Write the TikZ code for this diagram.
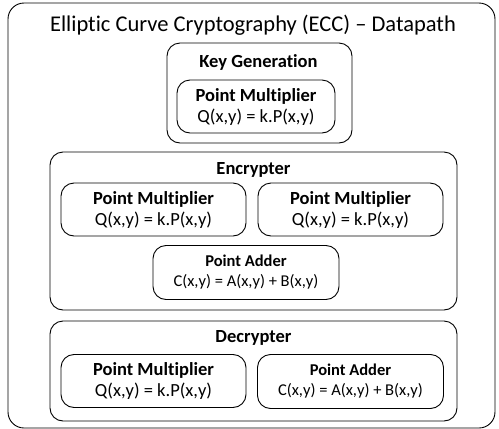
\documentclass[tikz,border=0pt]{standalone}
\usepackage{fontspec}
\setmainfont{Carlito}[Ligatures=NoCommon]
\begin{document}
\begin{tikzpicture}[x=1pt,y=-1pt,
  box/.style={draw,line width=0.9pt,rounded corners=13pt,inner sep=0pt},
  big/.style={font=\fontsize{22.5}{24}\selectfont},
  head/.style={font=\bfseries\fontsize{18.5}{20}\selectfont},
  pm/.style={box,minimum width=185pt,minimum height=53pt,align=center,font=\fontsize{18.5}{21}\selectfont},
  pa/.style={box,minimum width=186pt,minimum height=54pt,align=center,font=\fontsize{16.5}{20}\selectfont}]
\useasboundingbox (0,0) rectangle (499,429);
\node[box,rounded corners=16pt,minimum width=487pt,minimum height=425pt] (outer) at (251.5,215.5) {};
\node[big] (title) at (253,25) {Elliptic Curve Cryptography (ECC) – Datapath};
% Key generation
\node[box,minimum width=185pt,minimum height=100pt] (kg) at (259.5,93) {};
\node[head] (kgl) at (258.5,62) {Key Generation};
\node[pm,minimum width=158pt] (kgpm) at (256,106.5) {\textbf{Point Multiplier}\\Q(x,y) = k.P(x,y)};
% Encrypter
\node[box,minimum width=407pt,minimum height=158pt] (enc) at (253.5,231) {};
\node[head] (encl) at (253.5,170) {Encrypter};
\node[pm] (epm1) at (153.5,209.5) {\textbf{Point Multiplier}\\Q(x,y) = k.P(x,y)};
\node[pm] (epm2) at (350.5,209.5) {\textbf{Point Multiplier}\\Q(x,y) = k.P(x,y)};
\node[pa] (epa) at (246,272.5) {\textbf{Point Adder}\\C(x,y) = A(x,y) + B(x,y)};
% Decrypter
\node[box,minimum width=407pt,minimum height=100pt] (dec) at (253.5,371) {};
\node[head] (decl) at (253.5,338) {Decrypter};
\node[pm] (dpm) at (153.5,381) {\textbf{Point Multiplier}\\Q(x,y) = k.P(x,y)};
\node[pa] (dpa) at (350.5,381.5) {\textbf{Point Adder}\\C(x,y) = A(x,y) + B(x,y)};
\end{tikzpicture}
\end{document}
